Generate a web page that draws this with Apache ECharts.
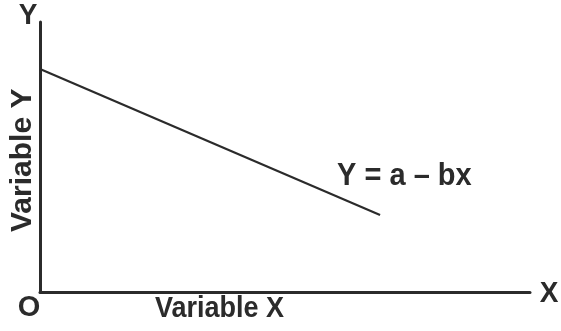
<!DOCTYPE html>
<html><head><meta charset="utf-8">
<script src="https://cdn.jsdelivr.net/npm/echarts@6/dist/echarts.min.js"></script>
<style>html,body{margin:0;padding:0;background:#fff}#c{width:561px;height:331px}</style>
</head><body><div id="c"></div>
<script>
const xValues = [0, 69.4];
const yValues = [82.6, 28.5];
const lineLabel = 'Y = a \u2013 bx';
const xName = 'Variable X';
const yName = 'Variable Y';
const xAxisName = 'X';
const yAxisName = 'Y';
const originLabel = 'O';

const chart = echarts.init(document.getElementById('c'));
const font = '"Liberation Sans", Arial, sans-serif';
const ink = '#2b2b2b';
function txt(text, x, y, size, sy, align) {
  return {type: 'text', x: x, y: y, scaleY: sy,
    style: {text: text, fill: ink, font: 'bold ' + size + 'px ' + font, align: align, verticalAlign: 'middle'}};
}
chart.setOption({
  animation: false,
  grid: {left: 40, top: 22, right: 31, bottom: 39},
  xAxis: {type: 'value', min: 0, max: 100,
    axisLine: {show: true, lineStyle: {color: ink, width: 3}},
    axisTick: {show: false}, axisLabel: {show: false}, splitLine: {show: false}
  },
  yAxis: {type: 'value', min: 0, max: 100,
    axisLine: {show: true, lineStyle: {color: ink, width: 3}},
    axisTick: {show: false}, axisLabel: {show: false}, splitLine: {show: false}
  },
  series: [{
    type: 'line', symbol: 'none',
    data: xValues.map((x, i) => [x, yValues[i]]),
    lineStyle: {color: ink, width: 2.2}
  }]
});
const endPt = chart.convertToPixel({seriesIndex: 0}, [xValues[1], yValues[1]]);
chart.setOption({
  graphic: [
    txt(yAxisName, 28, 15.5, 28, 1.05, 'center'),
    txt(xAxisName, 549, 293.5, 28, 1.05, 'center'),
    txt(originLabel, 29, 307.5, 29, 1.0, 'center'),
    txt(xName, 155, 309, 27, 1.08, 'left'),
    {type: 'text', x: 8, y: 232, rotation: Math.PI/2, style: {text: yName, fill: ink, font: 'bold 30px ' + font}},
    txt(lineLabel, endPt[0] - 43, endPt[1] - 38, 29, 1.05, 'left')
  ]
});
</script></body></html>
